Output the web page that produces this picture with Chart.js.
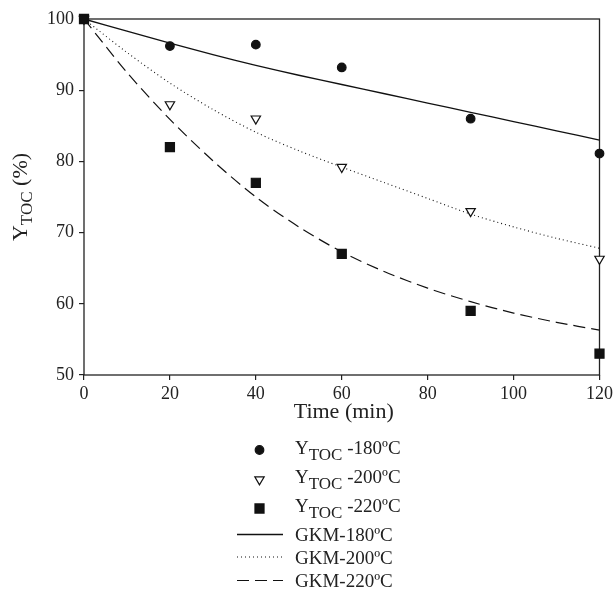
<!DOCTYPE html>
<html lang="en">
<head>
<meta charset="UTF-8">
<title>Y TOC vs time</title>
<script src="https://cdn.jsdelivr.net/npm/chart.js"></script>
<style>
  body { margin: 0; background: #fff; }
  #wrap { width: 616px; height: 590px; position: relative; }
</style>
</head>
<body>
<div id="wrap"><canvas id="tocChart"></canvas></div>
<script>
// measured points (Time in min, Y_TOC in %)
const timeMin = [0, 20, 40, 60, 90, 120];
const ytoc180 = [100, 96.2, 96.4, 93.2, 86.0, 81.1];
const ytoc200 = [100, 88.0, 86.0, 79.2, 73.0, 66.3];
const ytoc220 = [100, 82.0, 77.0, 67.0, 59.0, 53.0];

// GKM model curves, every 10 min
const modelTime = [0, 10, 20, 30, 40, 50, 60, 70, 80, 90, 100, 110, 120];
const gkm180 = [100, 98.3, 96.6, 95.0, 93.5, 92.1, 90.8, 89.5, 88.2, 86.9, 85.6, 84.3, 83.0];
const gkm200 = [100, 95.3, 91.0, 87.3, 84.1, 81.5, 79.2, 77.0, 74.8, 72.6, 70.8, 69.2, 67.8];
const gkm220 = [100, 92.5, 85.9, 80.1, 75.0, 70.8, 67.3, 64.5, 62.2, 60.3, 58.7, 57.4, 56.3];

const xTickValues = [0, 20, 40, 60, 80, 100, 120];
const yTickValues = [50, 60, 70, 80, 90, 100];

const ink = '#222';
const serif = '"Liberation Serif", "Times New Roman", serif';

const pts = (xs, ys) => xs.map((x, i) => ({ x: x, y: ys[i] }));

// draws text where _{...} is a subscript
function drawRich(ctx, text, x, y, size, subSize, drop) {
  const parts = text.split(/(_\{[^}]*\})/).filter(s => s.length);
  let cx = x;
  parts.forEach(p => {
    const sub = p.startsWith('_{');
    const t = sub ? p.slice(2, -1) : p;
    ctx.font = (sub ? subSize : size) + 'px ' + serif;
    ctx.fillText(t, cx, sub ? y + drop : y);
    cx += ctx.measureText(t).width;
  });
  return cx - x;
}
function richWidth(ctx, text, size, subSize) {
  let w = 0;
  text.split(/(_\{[^}]*\})/).filter(s => s.length).forEach(p => {
    const sub = p.startsWith('_{');
    ctx.font = (sub ? subSize : size) + 'px ' + serif;
    w += ctx.measureText(sub ? p.slice(2, -1) : p).width;
  });
  return w;
}

const frame = {
  id: 'frame',
  beforeDatasetsDraw(chart) {
    const { ctx, chartArea: a } = chart;
    ctx.save();
    ctx.strokeStyle = ink;
    ctx.lineWidth = 1.3;
    ctx.strokeRect(a.left, a.top, a.right - a.left, a.bottom - a.top);
    ctx.restore();
  },
  afterDraw(chart) {
    const { ctx, chartArea: a } = chart;
    ctx.save();
    ctx.fillStyle = ink;
    ctx.textBaseline = 'alphabetic';

    // x title
    ctx.font = '22px ' + serif;
    ctx.textAlign = 'center';
    ctx.fillText('Time (min)', (a.left + a.right) / 2 + 2, 418);

    // y title, rotated
    ctx.textAlign = 'left';
    const yt = 'Y_{TOC} (%)';
    const w = richWidth(ctx, yt, 22, 17);
    ctx.save();
    ctx.translate(27, (a.top + a.bottom) / 2);
    ctx.rotate(-Math.PI / 2);
    drawRich(ctx, yt, -w / 2, 0, 22, 17, 5);
    ctx.restore();

    // legend
    const mx = 259.5, tx = 295;
    const rows = [
      { ds: 0, y: 450, base: 453.5 },
      { ds: 1, y: 479.5, base: 482.5 },
      { ds: 2, y: 508.5, base: 511.5 },
      { ds: 3, y: 534.5, base: 540.5 },
      { ds: 4, y: 557, base: 564 },
      { ds: 5, y: 580.5, base: 587 }
    ];
    rows.forEach(r => {
      const ds = chart.data.datasets[r.ds];
      if (ds.showLine === false) {
        ctx.save();
        ctx.fillStyle = ds.pointBackgroundColor;
        ctx.strokeStyle = ds.pointBorderColor;
        ctx.lineWidth = ds.pointBorderWidth;
        Chart.helpers.drawPoint(ctx, {
          pointStyle: ds.pointStyle,
          radius: ds.pointRadius,
          rotation: ds.pointRotation || 0,
          borderWidth: ds.pointBorderWidth
        }, mx, r.y);
        ctx.restore();
      } else {
        ctx.save();
        ctx.strokeStyle = ds.borderColor;
        ctx.lineWidth = ds.borderWidth;
        ctx.setLineDash(ds.borderDash || []);
        ctx.beginPath();
        ctx.moveTo(237, r.y);
        ctx.lineTo(283, r.y);
        ctx.stroke();
        ctx.restore();
      }
      ctx.fillStyle = ink;
      drawRich(ctx, ds.label, tx, r.base, 19, 17, 6);
    });
    ctx.restore();
  }
};

function marker(label, ys, style, radius, fill, rot) {
  return {
    type: 'scatter',
    label: label,
    data: pts(timeMin, ys),
    showLine: false,
    pointStyle: style,
    pointRadius: radius,
    pointRotation: rot || 0,
    pointBackgroundColor: fill,
    pointBorderColor: '#111',
    pointBorderWidth: 1.2,
    clip: false
  };
}
function curve(label, ys, dash, width) {
  return {
    type: 'line',
    label: label,
    data: pts(modelTime, ys),
    borderColor: '#111',
    borderWidth: width,
    borderDash: dash,
    pointRadius: 0,
    tension: 0.3,
    fill: false,
    clip: false
  };
}

const datasets = [
  marker('Y_{TOC} -180ºC', ytoc180, 'circle', 4.3, '#111'),
  marker('Y_{TOC} -200ºC', ytoc200, 'triangle', 5.4, '#fff', 180),
  marker('Y_{TOC} -220ºC', ytoc220, 'rect', 6.4, '#111'),
  curve('GKM-180ºC', gkm180, [], 1.3),
  curve('GKM-200ºC', gkm200, [1, 3], 1.1),
  curve('GKM-220ºC', gkm220, [12, 6], 1.2)
];

const tickFont = { family: serif, size: 18 };

new Chart(document.getElementById('tocChart'), {
  data: { datasets: datasets },
  options: {
    responsive: true,
    maintainAspectRatio: false,
    animation: false,
    events: [],
    layout: { padding: { top: 19, right: 14, left: 0, bottom: 0 } },
    plugins: { legend: { display: false }, tooltip: { enabled: false } },
    scales: {
      x: {
        type: 'linear',
        min: 0,
        max: 120,
        afterBuildTicks: s => { s.ticks = xTickValues.map(v => ({ value: v })); },
        afterFit: s => { s.height = 215; },
        border: { display: false },
        grid: { drawOnChartArea: false, drawTicks: true, tickLength: 5, color: ink, lineWidth: 1.2 },
        ticks: { color: ink, font: tickFont, padding: 3, maxRotation: 0 }
      },
      y: {
        type: 'linear',
        min: 50,
        max: 100,
        afterBuildTicks: s => { s.ticks = yTickValues.map(v => ({ value: v })); },
        afterFit: s => { s.width = 84; },
        border: { display: false },
        grid: { drawOnChartArea: false, drawTicks: true, tickLength: 5, color: ink, lineWidth: 1.2 },
        ticks: { color: ink, font: tickFont, padding: 5 }
      }
    }
  },
  plugins: [frame]
});
</script>
</body>
</html>
